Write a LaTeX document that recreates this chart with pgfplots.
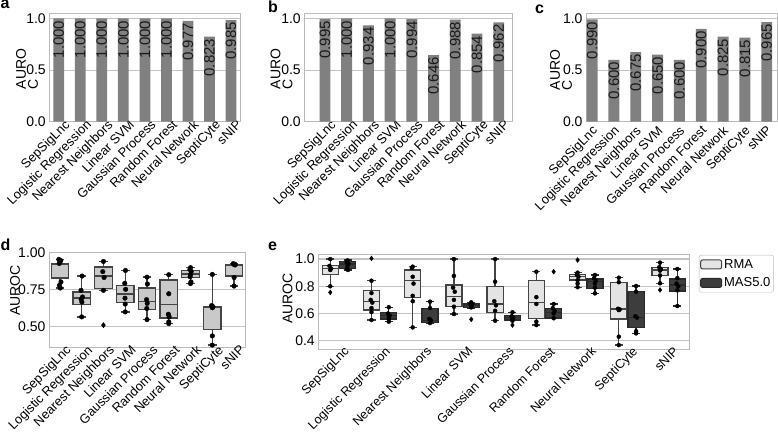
\documentclass[border=0pt]{standalone}
\usepackage{pgfplots}
\pgfplotsset{compat=1.18}
\usepgfplotslibrary{statistics}
\usepackage{pgfplotstable}
\usepackage{fontspec}
\setmainfont{Liberation Sans}

\definecolor{barcol}{HTML}{808080}
\definecolor{gridcol}{HTML}{C4C4C4}
\definecolor{framecol}{HTML}{BBBBBB}
\definecolor{edgecol}{HTML}{444444}
\definecolor{dfill}{HTML}{C9C9C9}
\definecolor{rmafill}{HTML}{E4E4E4}
\definecolor{masfill}{HTML}{3D3D3D}
\definecolor{masedge}{HTML}{2A2A2A}

\pgfplotstableread{
x y lab
0 1.000 1.000
1 1.000 1.000
2 1.000 1.000
3 1.000 1.000
4 1.000 1.000
5 1.000 1.000
6 0.977 0.977
7 0.823 0.823
8 0.985 0.985
}\dataA
\pgfplotstableread{
x y lab
0 0.995 0.995
1 1.000 1.000
2 0.934 0.934
3 1.000 1.000
4 0.994 0.994
5 0.646 0.646
6 0.988 0.988
7 0.854 0.854
8 0.962 0.962
}\dataB
\pgfplotstableread{
x y lab
0 0.990 0.990
1 0.600 0.600
2 0.675 0.675
3 0.650 0.650
4 0.600 0.600
5 0.900 0.900
6 0.825 0.825
7 0.815 0.815
8 0.965 0.965
}\dataC

\pgfplotsset{
 base/.style={scale only axis, anchor=south west,
   axis line style={framecol, line width=0.9pt},
   ymajorgrids, grid style={gridcol, line width=0.9pt},
   major tick length=0pt, tick style={draw=none},
   xtick={0,...,8},
   xticklabels={SepSigLnc,Logistic Regression,Nearest Neighbors,Linear SVM,Gaussian Process,Random Forest,Neural Network,SeptiCyte,sNIP},
   xticklabel style={rotate=45, anchor=north east, font=\fontsize{12.9}{12.9}\selectfont, inner sep=0.5pt, xshift=6pt, yshift=-1pt},
   yticklabel style={font=\fontsize{14}{14}\selectfont, /pgf/number format/assume math mode=true, /pgf/number format/fixed, /pgf/number format/fixed zerofill},
   ylabel style={font=\fontsize{14}{12}\selectfont, anchor=center}},
 barax/.style={base, height=108.4pt, ymin=0, ymax=1.05, ytick={0,0.5,1},
   yticklabel style={/pgf/number format/precision=1},
   ylabel={AURO\\C}, ylabel style={align=left}},
 barplot/.style={ybar, bar width=0.5, fill=barcol, draw=none},
 barlab/.style={draw=none, nodes near coords, point meta=explicit symbolic,
   nodes near coords style={rotate=90, anchor=east, font=\fontsize{15}{15}\selectfont, inner sep=2pt, text=black!90}},
 dbox/.style={fill=dfill, draw=edgecol, line width=1.3pt, solid},
 rbox/.style={fill=rmafill, draw=edgecol, line width=1.3pt, solid},
 mbox/.style={fill=masfill, draw=masedge, line width=1.3pt, solid},
 pts/.style={only marks, mark=*, mark size=2.3pt, black},
 outl/.style={only marks, mark=diamond*, mark size=2.6pt, black},
}
% #1 style, #2 pos, #3 box extend, #4 lw, #5 q1, #6 med, #7 q3, #8 uw
\newcommand{\bx}[8]{\addplot[#1, boxplot/draw direction=y, boxplot prepared={draw direction=y, draw position=#2, box extend=#3, whisker extend=#3*0.5, lower whisker=#4, lower quartile=#5, median=#6, upper quartile=#7, upper whisker=#8}] coordinates {};}

\begin{document}
\begin{tikzpicture}
\useasboundingbox (0,0) rectangle (778pt,432pt);

% ---------- a ----------
\begin{axis}[barax, at={(49.3pt,310.3pt)}, width=191.4pt, xmin=-0.44, xmax=8.45,
  ylabel style={at={(axis description cs:-0.1165,0.486)}}]
\addplot[barplot] table[x=x,y=y]{\dataA};
\addplot[barlab] table[x=x,y=y,meta=lab]{\dataA};
\end{axis}

% ---------- b ----------
\begin{axis}[barax, at={(304.3pt,310.3pt)}, width=207.7pt, xmin=-0.95, xmax=8.61,
  ylabel style={at={(axis description cs:-0.11,0.486)}}]
\addplot[barplot] table[x=x,y=y]{\dataB};
\addplot[barlab] table[x=x,y=y,meta=lab]{\dataB};
\end{axis}

% ---------- c ----------
\begin{axis}[barax, at={(586pt,310.3pt)}, width=191.4pt, xmin=-0.28, xmax=8.49,
  xticklabel style={xshift=-8pt},
  ylabel style={at={(axis description cs:-0.13,0.477)}}]
\addplot[barplot] table[x=x,y=y]{\dataC};
\addplot[barlab] table[x=x,y=y,meta=lab]{\dataC};
\end{axis}

% ---------- d ----------
\begin{axis}[base, at={(49pt,85pt)}, width=196pt, height=95pt,
  xmin=-0.5, xmax=8.5, ymin=0.359, ymax=1.003, ytick={0.5,0.75,1},
  yticklabel style={/pgf/number format/precision=2},
  boxplot/draw direction=y,
  ylabel={AUROC}, ylabel style={at={(axis description cs:-0.173,0.595)}}]
\bx{dbox}{0}{0.8}{0.759}{0.826}{0.920}{0.924}{0.953}
\bx{dbox}{1}{0.8}{0.563}{0.647}{0.691}{0.732}{0.840}
\bx{dbox}{2}{0.8}{0.743}{0.755}{0.840}{0.901}{0.939}
\bx{dbox}{3}{0.8}{0.597}{0.660}{0.718}{0.777}{0.878}
\bx{dbox}{4}{0.8}{0.545}{0.615}{0.667}{0.759}{0.833}
\bx{dbox}{5}{0.8}{0.518}{0.556}{0.647}{0.813}{0.849}
\bx{dbox}{6}{0.8}{0.789}{0.829}{0.853}{0.878}{0.897}
\bx{dbox}{7}{0.8}{0.372}{0.480}{0.626}{0.633}{0.851}
\bx{dbox}{8}{0.8}{0.772}{0.840}{0.912}{0.919}{0.924}
\addplot[pts] coordinates {
 (-0.05,0.953) (0.04,0.945) (0.0,0.935) (-0.03,0.925) (0.05,0.800) (-0.02,0.777) (0.02,0.759)
 (1.02,0.840) (0.97,0.743) (1.04,0.698) (0.98,0.682) (1.01,0.664) (1.00,0.563)
 (2.00,0.939) (1.97,0.870) (2.03,0.830) (2.00,0.743)
 (3.01,0.878) (2.98,0.791) (3.02,0.750) (2.99,0.690) (3.00,0.650) (3.00,0.597)
 (4.00,0.833) (4.02,0.786) (3.98,0.680) (4.01,0.655) (3.99,0.620) (4.00,0.545)
 (5.00,0.849) (5.00,0.720) (4.98,0.581) (5.02,0.563) (5.00,0.529) (5.00,0.518)
 (6.00,0.897) (5.97,0.885) (6.03,0.870) (6.00,0.850) (5.98,0.835) (6.02,0.800) (6.00,0.789)
 (7.00,0.851) (6.97,0.640) (7.03,0.632) (7.00,0.625) (7.00,0.434) (7.00,0.372)
 (7.96,0.924) (8.03,0.920) (8.00,0.918) (8.05,0.915) (8.00,0.830) (8.00,0.772)
};
\addplot[outl] coordinates {(2,0.507)};
\end{axis}

% ---------- e ----------
\begin{axis}[base, at={(318.3pt,82.7pt)}, width=371pt, height=94.6pt,
  xmin=-0.5, xmax=8.5, ymin=0.337, ymax=1.032, ytick={0.4,0.6,0.8,1},
  yticklabel style={/pgf/number format/precision=1},
  xticklabel style={font=\fontsize{12.6}{12.6}\selectfont, yshift=1pt},
  grid style={gridcol, line width=1.3pt},
  boxplot/draw direction=y,
  ylabel={AUROC}, ylabel style={at={(axis description cs:-0.083,0.537)}},
  legend style={at={(axis description cs:1.026,0.997)}, anchor=north west, draw=framecol,
    rounded corners=2pt, font=\fontsize{13}{14}\selectfont, inner xsep=1pt, inner ysep=2pt, row sep=4pt,
    cells={anchor=west}, nodes={inner xsep=2pt}}]
\addlegendimage{legend image code/.code={\draw[fill=rmafill, draw=edgecol, line width=1pt] (0pt,-4.5pt) rectangle (21pt,4.5pt);}}
\addlegendentry{RMA}
\addlegendimage{legend image code/.code={\draw[fill=masfill, draw=masedge, line width=1pt] (0pt,-4.5pt) rectangle (21pt,4.5pt);}}
\addlegendentry{MAS5.0}
\bx{rbox}{-0.21}{0.39}{0.800}{0.885}{0.930}{0.955}{1.000}
\bx{mbox}{0.21}{0.39}{0.920}{0.932}{0.964}{0.981}{0.993}
\bx{rbox}{0.79}{0.39}{0.552}{0.626}{0.687}{0.768}{0.841}
\bx{mbox}{1.21}{0.39}{0.540}{0.560}{0.584}{0.606}{0.646}
\bx{rbox}{1.79}{0.39}{0.498}{0.716}{0.841}{0.920}{0.944}
\bx{mbox}{2.21}{0.39}{0.530}{0.535}{0.550}{0.638}{0.687}
\bx{rbox}{2.79}{0.39}{0.596}{0.650}{0.724}{0.810}{1.000}
\bx{mbox}{3.21}{0.39}{0.640}{0.646}{0.662}{0.675}{0.682}
\bx{rbox}{3.79}{0.39}{0.547}{0.606}{0.670}{0.797}{1.000}
\bx{mbox}{4.21}{0.39}{0.547}{0.552}{0.569}{0.584}{0.609}
\bx{rbox}{4.79}{0.39}{0.515}{0.565}{0.680}{0.841}{0.907}
\bx{mbox}{5.21}{0.39}{0.565}{0.567}{0.609}{0.638}{0.670}
\bx{rbox}{5.79}{0.39}{0.793}{0.846}{0.871}{0.888}{0.900}
\bx{mbox}{6.21}{0.39}{0.748}{0.785}{0.834}{0.854}{0.883}
\bx{rbox}{6.79}{0.39}{0.368}{0.560}{0.633}{0.829}{0.863}
\bx{mbox}{7.21}{0.39}{0.454}{0.498}{0.572}{0.760}{0.802}
\bx{rbox}{7.79}{0.39}{0.822}{0.878}{0.920}{0.937}{0.974}
\bx{mbox}{8.21}{0.39}{0.655}{0.765}{0.810}{0.854}{0.927}
\addplot[pts, mark size=2pt] coordinates {
 (-0.21,1.000) (-0.23,0.950) (-0.19,0.930) (-0.21,0.920) (-0.21,0.800)
 (0.21,0.990) (0.19,0.975) (0.23,0.965) (0.21,0.950) (0.20,0.930) (0.22,0.920)
 (0.79,0.841) (0.79,0.750) (0.77,0.700) (0.81,0.680) (0.79,0.640) (0.79,0.610) (0.79,0.552)
 (1.21,0.646) (1.19,0.600) (1.23,0.585) (1.21,0.575) (1.21,0.560) (1.21,0.540)
 (1.79,0.944) (1.77,0.935) (1.79,0.870) (1.81,0.820) (1.79,0.730) (1.79,0.690) (1.79,0.498)
 (2.21,0.687) (2.21,0.640) (2.19,0.560) (2.23,0.550) (2.21,0.530)
 (2.79,1.000) (2.79,0.876) (2.77,0.790) (2.81,0.760) (2.79,0.700) (2.79,0.650) (2.79,0.596)
 (3.21,0.682) (3.19,0.670) (3.23,0.665) (3.21,0.655) (3.21,0.645)
 (3.79,1.000) (3.79,0.834) (3.77,0.690) (3.81,0.660) (3.79,0.620) (3.79,0.547)
 (4.21,0.609) (4.19,0.580) (4.23,0.570) (4.21,0.560) (4.21,0.547)
 (4.79,0.907) (4.79,0.720) (4.79,0.670) (4.79,0.540) (4.79,0.515)
 (5.21,0.670) (5.19,0.640) (5.23,0.620) (5.21,0.600) (5.21,0.565)
 (5.79,0.900) (5.77,0.885) (5.81,0.870) (5.79,0.845) (5.79,0.820) (5.79,0.793)
 (6.21,0.883) (6.19,0.860) (6.23,0.840) (6.21,0.820) (6.21,0.790) (6.21,0.748)
 (6.79,0.863) (6.79,0.830) (6.77,0.635) (6.81,0.630) (6.79,0.625) (6.79,0.430) (6.79,0.368)
 (7.21,0.802) (7.21,0.760) (7.19,0.580) (7.23,0.570) (7.21,0.470) (7.21,0.454)
 (7.79,0.974) (7.77,0.940) (7.81,0.925) (7.79,0.915) (7.79,0.880) (7.79,0.822)
 (8.21,0.927) (8.21,0.860) (8.19,0.820) (8.23,0.800) (8.21,0.770) (8.21,0.655)
};
\addplot[outl, mark size=2.4pt] coordinates {(-0.21,0.755) (0.79,1.005) (3.21,0.557) (4.21,0.515) (5.21,0.907) (5.79,0.993) (7.79,0.773)};
\end{axis}

% panel letters
\node[anchor=base west, inner sep=0pt, font=\bfseries\fontsize{16}{16}\selectfont] at (0.5pt,423.5pt) {a};
\node[anchor=base west, inner sep=0pt, font=\bfseries\fontsize{16}{16}\selectfont] at (268pt,419pt) {b};
\node[anchor=base west, inner sep=0pt, font=\bfseries\fontsize{16}{16}\selectfont] at (535pt,418.5pt) {c};
\node[anchor=base west, inner sep=0pt, font=\bfseries\fontsize{16}{16}\selectfont] at (0.5pt,182pt) {d};
\node[anchor=base west, inner sep=0pt, font=\bfseries\fontsize{16}{16}\selectfont] at (268pt,182pt) {e};
\end{tikzpicture}
\end{document}
